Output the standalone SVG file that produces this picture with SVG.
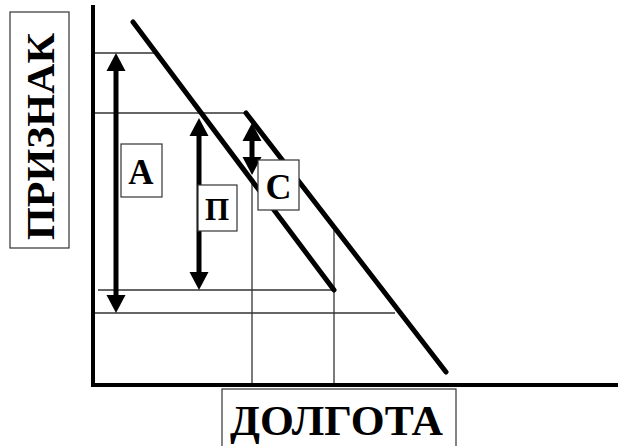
<svg xmlns="http://www.w3.org/2000/svg" width="618" height="446" viewBox="0 0 618 446">
<style>
.grid{stroke:#333;stroke-width:1.3;fill:none}
.axis{stroke:#000;stroke-width:4;fill:none}
.diag{stroke:#000;stroke-width:5;stroke-linecap:round;fill:none}
.arr{stroke:#000;stroke-width:5;fill:none;marker-start:url(#ah);marker-end:url(#ah)}
.box{fill:#fff;stroke:#333;stroke-width:1.2}
.lbl{font-family:"Liberation Serif","Times New Roman",serif;font-weight:bold;fill:#000}
</style>
<defs>
<marker id="ah" markerUnits="userSpaceOnUse" markerWidth="19" markerHeight="20" refX="0" refY="9.5" orient="auto-start-reverse" viewBox="0 0 19 19">
<path d="M0,0 L18,9.5 L0,19 z" fill="#000"/>
</marker>
</defs>
<rect width="618" height="446" fill="#fff"/>
<g id="connectors">
<line class="grid" x1="93" y1="53" x2="155" y2="53"/>
<line class="grid" x1="93" y1="113" x2="246" y2="113"/>
<line class="grid" x1="98" y1="290" x2="334" y2="290"/>
<line class="grid" x1="93" y1="313" x2="395" y2="313"/>
<line class="grid" x1="252" y1="181" x2="252" y2="385"/>
<line class="grid" x1="334" y1="227" x2="334" y2="385"/>
<line class="axis" x1="93" y1="5" x2="93" y2="387"/>
<line class="axis" x1="91" y1="385" x2="618" y2="385"/>
<line class="diag" x1="133" y1="22" x2="334" y2="290"/>
<line class="diag" x1="246" y1="113" x2="446" y2="372"/>
<line class="arr" x1="116" y1="71" x2="116" y2="295"/>
<line class="arr" x1="199" y1="136" x2="199" y2="272"/>
<line class="arr" x1="252" y1="141" x2="252" y2="157"/>
</g>
<g id="box-A">
<rect class="box" x="121" y="144" width="41" height="53"/>
<text class="lbl" x="141" y="184" font-size="35" text-anchor="middle">А</text>
</g>
<g id="box-P">
<rect class="box" x="198" y="185" width="39" height="46"/>
<text class="lbl" x="217" y="220" font-size="31" text-anchor="middle">П</text>
</g>
<g id="box-C">
<rect class="box" x="258" y="160" width="41" height="50"/>
<text class="lbl" x="278.5" y="199" font-size="36" text-anchor="middle">С</text>
</g>
<g id="label-y">
<rect class="box" x="10" y="12" width="59" height="236"/>
<text class="lbl" transform="translate(54,240) rotate(-90)" x="0" y="0" font-size="40" textLength="207" lengthAdjust="spacingAndGlyphs">ПРИЗНАК</text>
</g>
<g id="label-x">
<rect class="box" x="222" y="389" width="234" height="70"/>
<text class="lbl" x="230" y="435" font-size="43" textLength="213" lengthAdjust="spacingAndGlyphs">ДОЛГОТА</text>
</g>
</svg>
